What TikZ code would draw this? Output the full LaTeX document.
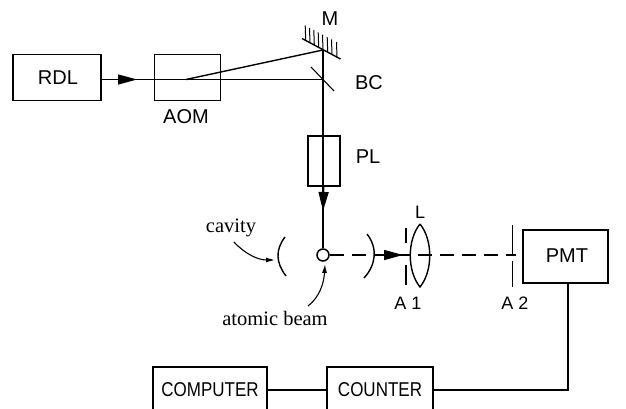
\documentclass[tikz,border=0pt]{standalone}
\usepackage{fontspec}
\setmainfont{Liberation Sans}
\newfontfamily\serifface{Liberation Serif}
\usetikzlibrary{arrows.meta}
\tikzset{
  box/.style={draw=black,line width=1.5pt,inner sep=0pt,anchor=north west},
  lab/.style={font=\fontsize{20}{22}\selectfont,inner sep=0pt},
  smalllab/.style={font=\fontsize{18}{20}\selectfont,inner sep=0pt},
  narrowlab/.style={font=\fontsize{20}{22}\selectfont,inner sep=0pt,xscale=.85,transform shape},
  tinylab/.style={font=\serifface\fontsize{20.5}{23}\selectfont,inner sep=0pt},
  wire/.style={line width=1.4pt},
  beam/.style={line width=1.2pt},
  dashline/.style={line width=1.1pt,dash pattern=on 14pt off 8pt},
  tiparrow/.style={-{Triangle[length=19pt,width=10pt]}},
  curv/.style={line width=1.1pt,-{Latex[length=9pt,width=5pt]}},
  optic/.style={line width=1.4pt}
}
\begin{document}
\begin{tikzpicture}[x=1pt,y=-1pt]
\useasboundingbox (0,0) rectangle (626,409);
\fill[white] (0,0) rectangle (626,409);
% boxes
\node[box,minimum width=88pt,minimum height=46pt] (rdl) at (12,54) {};
\node[lab] at (58,78) {RDL};
\node[box,minimum width=66pt,minimum height=46pt] (aom) at (153.5,54) {};
\node[lab] (aoml) at (186,117) {AOM};
\node[box,minimum width=32pt,minimum height=50pt] (pl) at (307,135) {};
\node[lab] (pll) at (368,157) {PL};
\node[box,minimum width=85pt,minimum height=53pt] (pmt) at (522,229) {};
\node[lab] at (567,256) {PMT};
% bottom boxes run off the lower edge
\coordinate (c1) at (153,367); \coordinate (c2) at (267,367);
\coordinate (c3) at (327,367); \coordinate (c4) at (433,367);
\draw[wire] (153,409) -- (c1) -- (c2) -- (267,409);
\draw[wire] (327,409) -- (c3) -- (c4) -- (433,409);
\node[narrowlab] at (210,390) {COMPUTER};
\node[narrowlab] at (380,390) {COUNTER};
% beams
\coordinate (bc) at (323,79.5);
\coordinate (m) at (323,50);
\coordinate (split) at (186,79.5);
\draw[beam] (rdl.east |- bc) -- (bc);
\draw[wire] (split) -- (m);
\draw[wire,tiparrow] (rdl.east |- bc) -- (137,79.5);
% mirror
\draw[optic] (302,38.5) -- (340.5,59);
\foreach \x/\y in {305.7/40.5,310/42.8,314.3/45,318.7/47.4,323/49.7,327.7/52.2,332/54.4,337/57}
  \draw[line width=1pt] (\x,\y) -- (\x-0.5,\y-15);
\node[lab] (ml) at (330,19) {M};
% beam combiner
\draw[line width=1.1pt] (311,67) -- (334,91);
\node[lab] (bcl) at (369,83) {BC};
% to cavity
\node[circle,draw=black,line width=1.5pt,fill=white,minimum size=12pt,inner sep=0pt] (atom) at (323,255) {};
\draw[wire] (m) -- (atom.north);
\draw[wire,tiparrow] (pl.south) -- (323,211);
% dashed axis
\coordinate (a2c) at (516,255);
\draw[dashline] (atom.east) -- (a2c);
\draw[wire,tiparrow] (378,255) -- (403,255);
% cavity mirrors
\draw[optic] (285,237) .. controls (275,250) and (276,263) .. (286,276);
\draw[optic] (367,234) .. controls (378,248) and (376,265) .. (364,278);
% A1, lens, A2
\draw[optic] (406,228) -- (406,243);
\draw[optic] (406,265) -- (406,285);
\coordinate (ltop) at (420,224); \coordinate (lbot) at (420,287);
\draw[optic] (ltop) .. controls (407,240) and (407,271) .. (lbot)
             .. controls (433,271) and (433,240) .. (ltop);
\draw[optic] (512.5,225) -- (512.5,254);
\draw[optic] (512.5,261) -- (512.5,287);
\node[smalllab] (ll) at (420,212) {L};
\node[smalllab] (a1) at (408,303) {A 1};
\node[smalllab] (a2) at (515,303) {A 2};
% PMT to counter, computer to counter
\coordinate (pmtb) at (568,282);
\coordinate (k) at (568,390);
\draw[wire] (pmtb) -- (k) -- (433,390);
\draw[wire] (267,390) -- (327,390);
% serif labels
\node[tinylab] (cav) at (231,228) {cavity};
\node[tinylab] (ab) at (275,318) {atomic beam};
\draw[curv] (234,242) .. controls (245,254) and (258,260) .. (275,260);
\draw[curv] (308,306) .. controls (320,297) and (324,282) .. (325,264);
\end{tikzpicture}
\end{document}
